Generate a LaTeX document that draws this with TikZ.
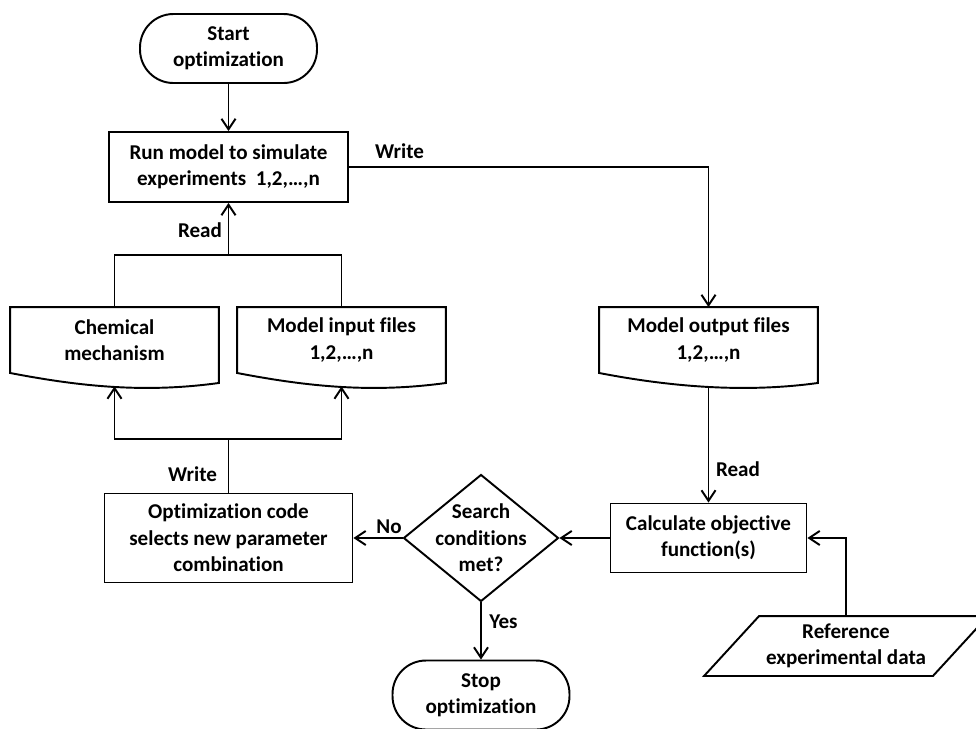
\documentclass[tikz,border=0pt]{standalone}
\usepackage{fontspec}
\setmainfont{Carlito}[Ligatures={NoCommon,NoRequired}]
\usepackage{tikz}
\usetikzlibrary{arrows.meta,shapes.geometric}

\begin{document}
\begin{tikzpicture}[x=0.02cm,y=-0.02cm,>={Straight Barb[length=6pt,width=8pt]},line width=1.1pt,
  font=\fontsize{12}{15}\selectfont\bfseries,
  term/.style={draw,rounded corners=19pt,minimum width=3.54cm,minimum height=1.38cm,align=center,inner sep=0pt},
  box/.style={draw,align=center,inner sep=0pt},
  doc/.style={align=center,minimum width=4.14cm,minimum height=1.28cm,inner sep=0pt},
  lbl/.style={inner sep=0pt}]
\useasboundingbox (0,0) rectangle (976,728);
\clip (0,0) rectangle (976,728);
\node[term] (start) at (228.5,48.5) {Start\\optimization};
\node[box,minimum width=4.78cm,minimum height=1.4cm] (run) at (228.5,167) {Run model to simulate\\experiments~ 1,2,…,n};
\node[doc] (chem) at (114.5,340) {Chemical\\mechanism};
\node[doc] (input) at (341.5,340) {Model input files\\1,2,…,n};
\node[doc,minimum width=4.34cm] (output) at (708.5,340) {Model output files\\1,2,…,n};
\foreach \d in {chem,input,output}
  \draw (\d.north west) -- (\d.north east) -- ([yshift=-0.2cm]\d.south east)
    .. controls ([xshift=-1.45cm,yshift=-0.4cm]\d.south east) and ([xshift=1.45cm,yshift=-0.28cm]\d.south west) .. (\d.south west) -- cycle;
\node[box,minimum width=4.96cm,minimum height=1.78cm] (opt) at (228.5,538) {Optimization code\\selects new parameter\\combination};
\node[draw,diamond,minimum width=3.1cm,minimum height=2.54cm,inner sep=0pt] (dec) at (481,538) {};
\node[align=center,inner sep=0pt] (dectxt) at (dec.center) {Search\\conditions\\met?};
\node[box,minimum width=3.92cm,minimum height=1.38cm] (calc) at (708.5,538) {Calculate objective\\function(s)};
\node[term] (stop) at (481,695) {Stop\\optimization};
\node[align=center,minimum width=4.54cm,minimum height=1.16cm,inner sep=0pt] (ref) at (846,646) {Reference\\experimental data};
\draw ([xshift=-0.55cm]ref.south west) -- ([xshift=-0.55cm]ref.south east) -- ([xshift=0.55cm]ref.north east) -- ([xshift=0.55cm]ref.north west) -- cycle;
% junctions and arrow ends
\coordinate (rj) at (228.5,255);
\coordinate (wj) at (228.5,439);
\coordinate (cb) at ([yshift=-0.27cm]chem.south);
\coordinate (ib) at ([yshift=-0.27cm]input.south);
\coordinate (ob) at ([yshift=-0.28cm]output.south);
% connectors
\draw[->] (start.south) -- (run.north);
\draw[->] (run.east) -| (output.north);
\draw (chem.north) |- (rj) -| (input.north);
\draw[->] (rj) -- (run.south);
\draw (opt.north) -- (wj);
\draw[->] (wj) -| (cb);
\draw[->] (wj) -| (ib);
\draw[->] (ob) -- (calc.north);
\draw[->] (calc.west) -- (dec.east);
\draw[->] (dec.west) -- (opt.east);
\draw[->] (dec.south) -- (stop.north);
\draw[->] (ref.north) |- (calc.east);
% labels
\node[lbl] (wtop) at (399.5,151) {Write};
\node[lbl] (rleft) at (200,230) {Read};
\node[lbl] (wbot) at (192.5,474) {Write};
\node[lbl] (rright) at (738,469) {Read};
\node[lbl] (no) at (389,527) {No};
\node[lbl] (yes) at (503.5,622) {Yes};
\end{tikzpicture}
\end{document}
